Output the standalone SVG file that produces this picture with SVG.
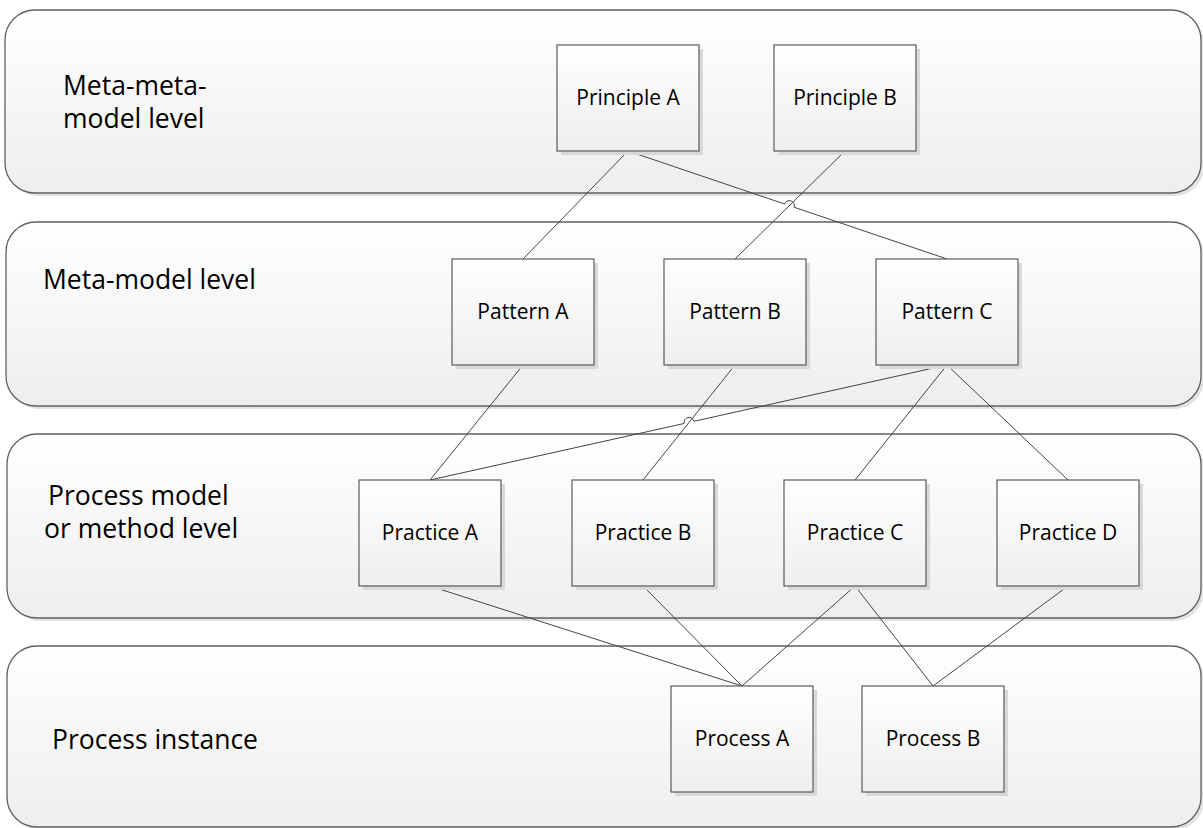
<svg xmlns="http://www.w3.org/2000/svg" width="1203" height="828" viewBox="0 0 1203 828">
  <defs>
    <linearGradient id="fillGrad" x1="0" y1="0" x2="0" y2="1">
      <stop offset="0" stop-color="#ffffff"/>
      <stop offset="1" stop-color="#eeeeee"/>
    </linearGradient>
    <style>
      .lane { fill: url(#fillGrad); stroke: #606060; stroke-width: 1.3; }
      .lane-shadow { fill: #e2e2e2; }
      .box { fill: url(#fillGrad); stroke: #5a5a5a; stroke-width: 1.2; }
      .box-shadow { fill: #d9d9d9; }
      .lane-label { font-family: "Open Sans", "Liberation Sans", sans-serif; font-size: 26.5px; fill: #000; }
      .node-label { font-family: "Open Sans", "Liberation Sans", sans-serif; font-size: 21px; fill: #000; text-anchor: middle; }
      .conn { fill: none; stroke: #444; stroke-width: 1; }
    </style>
  </defs>
  <rect width="1203" height="828" fill="#ffffff"/>

  <!-- swimlanes -->
  <g id="lane-metameta">
    <rect class="lane-shadow" x="8" y="13" width="1196" height="183" rx="30"/>
    <rect class="lane" x="5" y="10" width="1196" height="183" rx="30"/>
    <text class="lane-label" x="63" y="95">Meta-meta-</text>
    <text class="lane-label" x="63" y="128">model level</text>
  </g>
  <g id="lane-meta">
    <rect class="lane-shadow" x="9" y="225" width="1195" height="184" rx="30"/>
    <rect class="lane" x="6" y="222" width="1195" height="184" rx="30"/>
    <text class="lane-label" x="43" y="289">Meta-model level</text>
  </g>
  <g id="lane-process-model">
    <rect class="lane-shadow" x="10" y="437" width="1194" height="184" rx="30"/>
    <rect class="lane" x="7" y="434" width="1194" height="184" rx="30"/>
    <text class="lane-label" x="48" y="505">Process model</text>
    <text class="lane-label" x="44" y="538">or method level</text>
  </g>
  <g id="lane-instance">
    <rect class="lane-shadow" x="10" y="649" width="1194" height="181" rx="30"/>
    <rect class="lane" x="7" y="646" width="1194" height="181" rx="30"/>
    <text class="lane-label" x="52" y="749">Process instance</text>
  </g>

  <!-- connectors -->
  <g id="connectors">
    <path class="conn" d="M628,151 L523,259"/>
    <path class="conn" d="M628,151 L784.61,204.03 A5,5 0 0 1 794.09,207.23 L947,259"/>
    <path class="conn" d="M845,151 L735,259"/>
    <path class="conn" d="M523,365 L430,480"/>
    <path class="conn" d="M735,365 L643,480"/>
    <path class="conn" d="M430,480 L684.22,423.46 A5,5 0 0 1 693.98,421.28 L947,365"/>
    <path class="conn" d="M947,365 L855,480"/>
    <path class="conn" d="M947,365 L1068,480"/>
    <path class="conn" d="M430,586 L742,686"/>
    <path class="conn" d="M643,586 L742,686"/>
    <path class="conn" d="M855,586 L742,686"/>
    <path class="conn" d="M855,586 L933,686"/>
    <path class="conn" d="M1068,586 L933,686"/>
  </g>

  <!-- principles -->
  <g id="principle-a">
    <rect class="box-shadow" x="561" y="49" width="142" height="106"/>
    <rect class="box" x="557" y="45" width="142" height="106"/>
    <text class="node-label" x="628" y="105">Principle A</text>
  </g>
  <g id="principle-b">
    <rect class="box-shadow" x="778" y="49" width="142" height="106"/>
    <rect class="box" x="774" y="45" width="142" height="106"/>
    <text class="node-label" x="845" y="105">Principle B</text>
  </g>

  <!-- patterns -->
  <g id="pattern-a">
    <rect class="box-shadow" x="456" y="263" width="142" height="106"/>
    <rect class="box" x="452" y="259" width="142" height="106"/>
    <text class="node-label" x="523" y="319">Pattern A</text>
  </g>
  <g id="pattern-b">
    <rect class="box-shadow" x="668" y="263" width="142" height="106"/>
    <rect class="box" x="664" y="259" width="142" height="106"/>
    <text class="node-label" x="735" y="319">Pattern B</text>
  </g>
  <g id="pattern-c">
    <rect class="box-shadow" x="880" y="263" width="142" height="106"/>
    <rect class="box" x="876" y="259" width="142" height="106"/>
    <text class="node-label" x="947" y="319">Pattern C</text>
  </g>

  <!-- practices -->
  <g id="practice-a">
    <rect class="box-shadow" x="363" y="484" width="142" height="106"/>
    <rect class="box" x="359" y="480" width="142" height="106"/>
    <text class="node-label" x="430" y="540">Practice A</text>
  </g>
  <g id="practice-b">
    <rect class="box-shadow" x="576" y="484" width="142" height="106"/>
    <rect class="box" x="572" y="480" width="142" height="106"/>
    <text class="node-label" x="643" y="540">Practice B</text>
  </g>
  <g id="practice-c">
    <rect class="box-shadow" x="788" y="484" width="142" height="106"/>
    <rect class="box" x="784" y="480" width="142" height="106"/>
    <text class="node-label" x="855" y="540">Practice C</text>
  </g>
  <g id="practice-d">
    <rect class="box-shadow" x="1001" y="484" width="142" height="106"/>
    <rect class="box" x="997" y="480" width="142" height="106"/>
    <text class="node-label" x="1068" y="540">Practice D</text>
  </g>

  <!-- processes -->
  <g id="process-a">
    <rect class="box-shadow" x="675" y="690" width="142" height="106"/>
    <rect class="box" x="671" y="686" width="142" height="106"/>
    <text class="node-label" x="742" y="746">Process A</text>
  </g>
  <g id="process-b">
    <rect class="box-shadow" x="866" y="690" width="142" height="106"/>
    <rect class="box" x="862" y="686" width="142" height="106"/>
    <text class="node-label" x="933" y="746">Process B</text>
  </g>
</svg>
